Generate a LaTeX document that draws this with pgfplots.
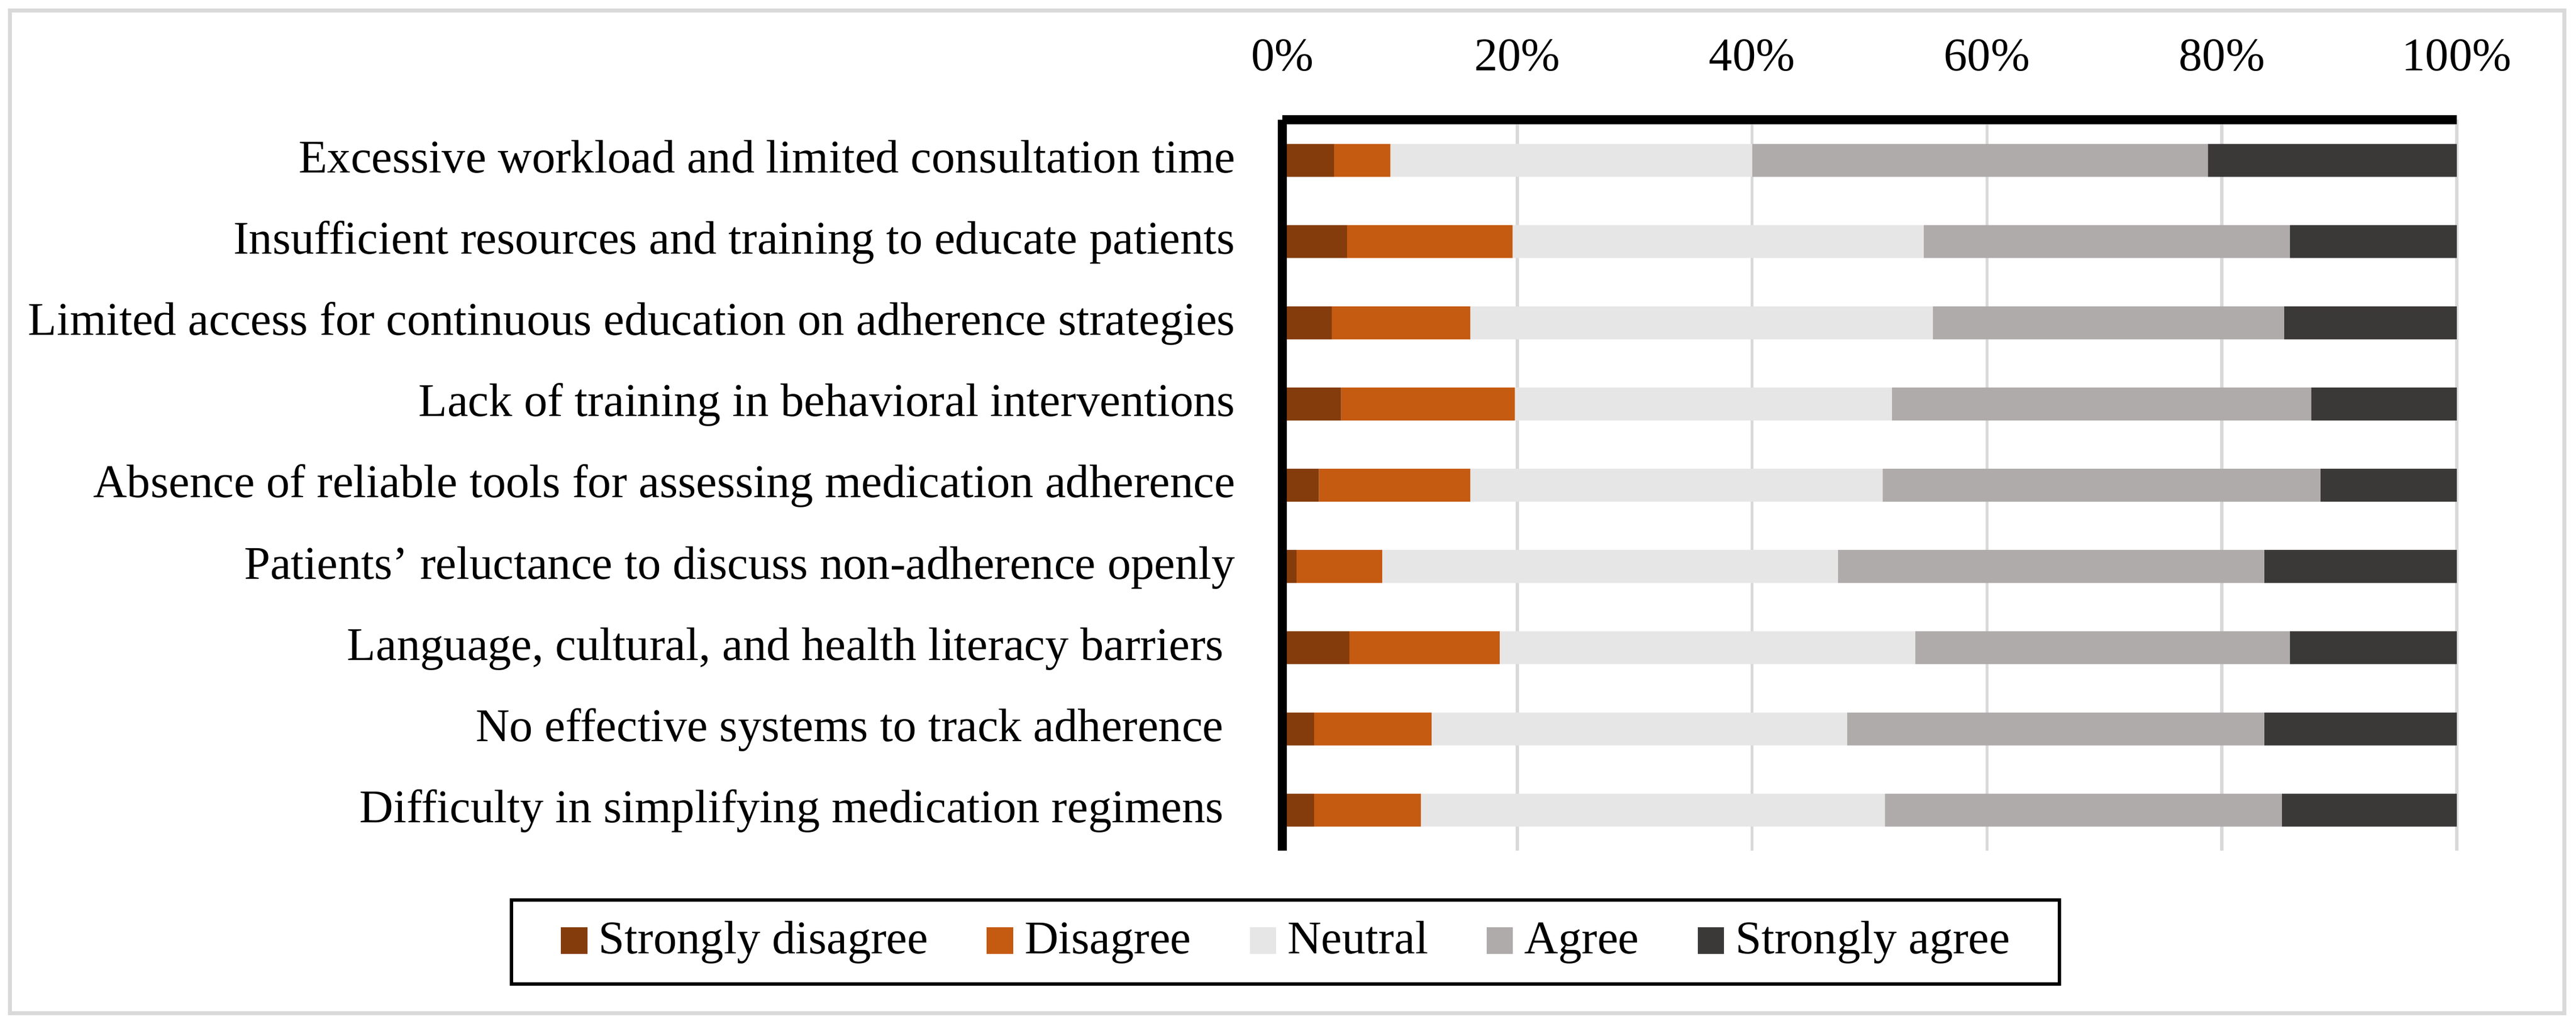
\documentclass[border=0pt]{standalone}
\usepackage{fontspec}
\setmainfont{Liberation Serif}
\usepackage{pgfplots}
\pgfplotsset{compat=1.18}

\definecolor{sdis}{HTML}{843C0C}
\definecolor{dis}{HTML}{C55A11}
\definecolor{neu}{HTML}{E7E6E6}
\definecolor{agr}{HTML}{AFABAB}
\definecolor{sagr}{HTML}{3B3838}
\definecolor{gridgray}{HTML}{D9D9D9}

\newcommand{\chartfont}{\fontsize{8.1pt}{9.7pt}\selectfont}

\pgfplotsset{
  sq/.style={legend image code/.code={\fill[##1] (0mm,0mm) rectangle (1.6mm,1.6mm);}},
}

\begin{document}
\begin{tikzpicture}[font=\chartfont]
\useasboundingbox (0,0) rectangle (156.4mm,62.3mm);
\draw[gridgray, line width=0.7pt] (0.6mm,0.75mm) rectangle (155.7mm,61.67mm);

\begin{axis}[
  at={(77.86mm,10.63mm)}, anchor=south west,
  width=71.3mm, height=44.4mm, scale only axis,
  xbar stacked, bar width=2mm,
  xmin=0, xmax=100, ymin=0.5, ymax=9.5,
  axis x line*=top, axis y line*=left,
  axis line style={line width=1.5pt, -},
  major tick length=0pt,
  xtick={0,20,40,60,80,100},
  xticklabels={0\%,20\%,40\%,60\%,80\%,100\%},
  xticklabel style={font=\chartfont, anchor=base, inner sep=0pt, yshift=2.99mm},
  ytick={1,...,9},
  yticklabels={
    Difficulty in simplifying medication regimens\kern2pt,
    No effective systems to track adherence\kern2pt,
    {Language, cultural, and health literacy barriers\kern2pt},
    Patients’ reluctance to discuss non-adherence openly,
    Absence of reliable tools for assessing medication adherence,
    Lack of training in behavioral interventions,
    Limited access for continuous education on adherence strategies,
    Insufficient resources and training to educate patients,
    Excessive workload and limited consultation time},
  yticklabel style={font=\chartfont, anchor=base east, inner sep=0pt, xshift=-2.8mm, yshift=-0.75mm},
  xmajorgrids, ymajorgrids=false,
  grid style={gridgray, line width=0.55pt},
  legend columns=5,
  legend style={font=\chartfont, at={(0.0027,-0.1245)}, anchor=center,
    draw=black, line width=0.6pt, inner xsep=3.0mm, inner ysep=1.3mm,
    nodes={inner sep=0pt},
    cells={anchor=base west},
    /tikz/every odd column/.append style={column sep=0.7mm},
    /tikz/every even column/.append style={column sep=3.55mm}},
  % left axis line drawn again over the start of the bars
  after end axis/.code={\draw[line width=1.5pt] (rel axis cs:0,0) -- (rel axis cs:0,1);},
]
\addplot[fill=sdis, draw=none, sq] coordinates {
(2.7,1) (2.7,2) (5.7,3) (1.2,4) (3.1,5) (5.0,6) (4.2,7) (5.5,8) (4.4,9)};
\addlegendentry{Strongly disagree}
\addplot[fill=dis, draw=none, sq] coordinates {
(9.1,1) (10.0,2) (12.8,3) (7.3,4) (12.9,5) (14.8,6) (11.8,7) (14.1,8) (4.8,9)};
\addlegendentry{Disagree}
\addplot[fill=neu, draw=none, sq] coordinates {
(39.5,1) (35.4,2) (35.4,3) (38.8,4) (35.1,5) (32.1,6) (39.4,7) (35.0,8) (30.8,9)};
\addlegendentry{Neutral}
\addplot[fill=agr, draw=none, sq] coordinates {
(33.8,1) (35.5,2) (31.9,3) (36.3,4) (37.3,5) (35.7,6) (29.9,7) (31.2,8) (38.8,9)};
\addlegendentry{Agree}
\addplot[fill=sagr, draw=none, sq] coordinates {
(14.9,1) (16.4,2) (14.2,3) (16.4,4) (11.6,5) (12.4,6) (14.7,7) (14.2,8) (21.2,9)};
\addlegendentry{Strongly agree}
\end{axis}
\end{tikzpicture}
\end{document}
